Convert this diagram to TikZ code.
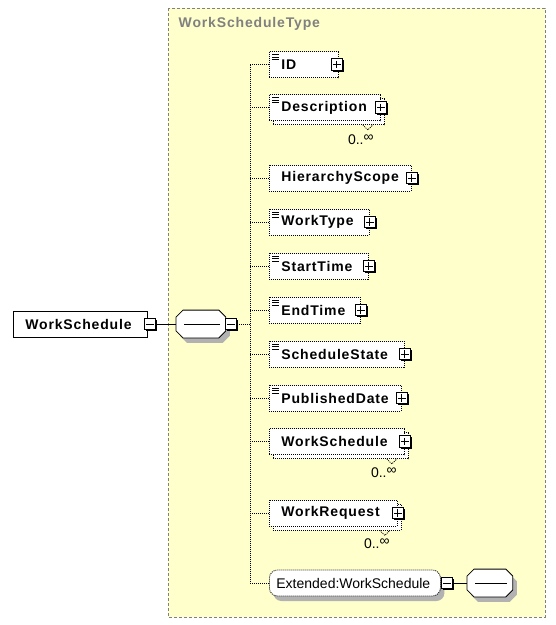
\documentclass[tikz,border=0pt]{standalone}
\usepackage{fontspec}
\setmainfont{Liberation Sans}[BoldFeatures={LetterSpace=6}]
\usetikzlibrary{shadows}

\definecolor{typefill}{RGB}{255,255,204}
\definecolor{typeline}{RGB}{128,128,128}

% octagon round a named (empty) node, with its shadow
\newcommand\octpath[2]{([shift={(#2)},shift={(7,0)}]#1.north west) -- ([shift={(#2)},shift={(-7,0)}]#1.north east)
  -- ([shift={(#2)},shift={(0,7)}]#1.north east) -- ([shift={(#2)},shift={(0,-7)}]#1.south east)
  -- ([shift={(#2)},shift={(-7,0)}]#1.south east) -- ([shift={(#2)},shift={(7,0)}]#1.south west)
  -- ([shift={(#2)},shift={(0,-7)}]#1.south west) -- ([shift={(#2)},shift={(0,7)}]#1.north west) -- cycle}
\newcommand\drawoct[1]{%
  \fill[black!30] \octpath{#1}{4,5};
  \draw[fill=white] \octpath{#1}{0,0};
  \draw ([xshift=8pt]#1.west) -- ([xshift=-6pt]#1.east);}

\tikzset{
  dots/.style={dash pattern=on 1pt off 1pt},
  elem/.style={draw, dots, fill=white, anchor=west, minimum height=26pt,
    inner xsep=12pt, align=left, font=\fontsize{14}{16}\selectfont\bfseries},
  doc/.style={path picture={
    \draw[solid, line width=0.7pt] ([shift={(3,3)}]path picture bounding box.north west) -- ++(7,0)
      ([shift={(3,5.5)}]path picture bounding box.north west) -- ++(7,0)
      ([shift={(3,8)}]path picture bounding box.north west) -- ++(7,0);}},
  multi/.style={copy shadow={shadow xshift=4pt, shadow yshift=-4pt, dots, draw=black, fill=white}},
  ctrlbox/.style={draw, solid, fill=white, minimum size=11.5pt, inner sep=0pt,
    drop shadow={shadow xshift=1.5pt, shadow yshift=-1.5pt, fill=black, opacity=1}},
  plusbox/.style={ctrlbox, path picture={
    \draw ([xshift=2pt]path picture bounding box.west) -- ([xshift=-2pt]path picture bounding box.east)
      ([yshift=-2pt]path picture bounding box.north) -- ([yshift=2pt]path picture bounding box.south);}},
  minusbox/.style={ctrlbox, path picture={
    \draw ([xshift=2pt]path picture bounding box.west) -- ([xshift=-2pt]path picture bounding box.east);}},
  seqbox/.style={minimum height=27pt, inner sep=0pt, anchor=west},
  card/.style={font=\fontsize{14}{16}\selectfont},
}
\newcommand\unbounded{\raisebox{3pt}{\fontsize{14}{14}\selectfont ∞}}

\begin{document}
\begin{tikzpicture}[x=1pt, y=-1pt, line width=0.8pt]
    \useasboundingbox (0,0) rectangle (556,625);

    % complex type area
    \draw[typeline, dash pattern=on 3pt off 2pt, fill=typefill] (168,8) rectangle (545,617);
    \node[anchor=west, text=typeline, font=\fontsize{14}{16}\selectfont\bfseries] (title) at (175,24) {WorkScheduleType};

    % root element and sequence
    \node[draw, fill=white, anchor=west, minimum height=26pt, inner xsep=12pt, text width=110pt,
          font=\fontsize{14}{16}\selectfont\bfseries] (root) at (13,324) {WorkSchedule};
    \node[minusbox] (rootM) at ([xshift=2pt]root.east) {};
    \node[seqbox, minimum width=49pt] (seq) at (176,324) {};
    \drawoct{seq}
    \node[minusbox] (seqM) at ([xshift=5pt]seq.east) {};
    \draw (rootM.east) -- (seq.west);

    % children
    \node[elem, doc, text width=45pt] (id) at (269,64.5) {ID};
    \node[elem, doc, multi, text width=87pt] (desc) at (269,107.5) {Description};
    \node[elem, text width=118pt] (hier) at (269,178) {HierarchyScope};
    \node[elem, doc, text width=76pt] (wtype) at (269,222) {WorkType};
    \node[elem, doc, text width=75pt] (stime) at (269,266) {StartTime};
    \node[elem, doc, text width=67pt] (etime) at (269,310) {EndTime};
    \node[elem, doc, text width=111pt] (sstate) at (269,354) {ScheduleState};
    \node[elem, doc, text width=108pt] (pdate) at (269,398) {PublishedDate};
    \node[elem, multi, text width=111pt] (wsched) at (269,441.5) {WorkSchedule};
    \node[elem, multi, text width=104pt] (wreq) at (269,513) {WorkRequest};
    \node[elem, rounded corners=8pt, inner xsep=7pt, text width=157pt, font=\fontsize{14}{16}\selectfont,
          drop shadow={shadow xshift=4pt, shadow yshift=-5pt, fill=black!30, opacity=1}] (ext) at (269,583) {Extended:WorkSchedule};

    \node[plusbox] (idP) at ([xshift=-2pt]id.east) {};
    \node[plusbox] (descP) at (desc.east) {};
    \node[plusbox] (hierP) at (hier.east) {};
    \node[plusbox] (wtypeP) at (wtype.east) {};
    \node[plusbox] (stimeP) at (stime.east) {};
    \node[plusbox] (etimeP) at (etime.east) {};
    \node[plusbox] (sstateP) at (sstate.east) {};
    \node[plusbox] (pdateP) at (pdate.east) {};
    \node[plusbox] (wschedP) at (wsched.east) {};
    \node[plusbox] (wreqP) at (wreq.east) {};
    \node[minusbox] (extM) at ([xshift=6pt]ext.east) {};

    % cardinalities
    \node[card] (descC) at ([xshift=-20pt, yshift=-19pt]desc.south east) {0..\unbounded};
    \node[card] (wschedC) at ([xshift=-21pt, yshift=-18pt]wsched.south east) {0..\unbounded};
    \node[card] (wreqC) at ([xshift=-21pt, yshift=-17pt]wreq.south east) {0..\unbounded};
    \draw[dots] ([xshift=-18pt, yshift=-4pt]desc.south east) -- ([xshift=-13pt, yshift=-9pt]desc.south east) -- ([xshift=-8pt, yshift=-4pt]desc.south east);
    \draw[dots] ([xshift=-18pt, yshift=-4pt]wsched.south east) -- ([xshift=-13pt, yshift=-9pt]wsched.south east) -- ([xshift=-8pt, yshift=-4pt]wsched.south east);
    \draw[dots] ([xshift=-18pt, yshift=-4pt]wreq.south east) -- ([xshift=-13pt, yshift=-9pt]wreq.south east) -- ([xshift=-8pt, yshift=-4pt]wreq.south east);

    % extension content
    \node[seqbox, minimum width=45pt] (ext2) at (467,583) {};
    \drawoct{ext2}
    \draw (extM.east) -- (ext2.west);

    % sequence spine
    \coordinate (spine) at (250,324);
    \draw[dots] (seqM.east) -- (spine);
    \draw[dots] (spine |- id.west) -- (spine |- ext.west);
    \draw[dots] (spine |- id.west) -- (id.west);
    \draw[dots] (spine |- desc.west) -- (desc.west);
    \draw[dots] (spine |- hier.west) -- (hier.west);
    \draw[dots] (spine |- wtype.west) -- (wtype.west);
    \draw[dots] (spine |- stime.west) -- (stime.west);
    \draw[dots] (spine |- etime.west) -- (etime.west);
    \draw[dots] (spine |- sstate.west) -- (sstate.west);
    \draw[dots] (spine |- pdate.west) -- (pdate.west);
    \draw[dots] (spine |- wsched.west) -- (wsched.west);
    \draw[dots] (spine |- wreq.west) -- (wreq.west);
    \draw[dots] (spine |- ext.west) -- (ext.west);
\end{tikzpicture}
\end{document}
